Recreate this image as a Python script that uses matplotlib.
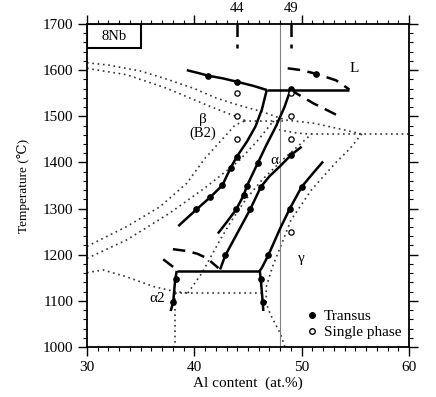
import matplotlib.pyplot as plt
from matplotlib.patches import Rectangle
from matplotlib.lines import Line2D
from matplotlib.ticker import MultipleLocator

plt.rcParams['font.family'] = ['Liberation Serif', 'DejaVu Serif', 'DejaVu Sans']

# ---- measured transus lines (solid) ----
beta_top_x = [39.3, 40.5, 41.3, 42.7, 43.95, 45.5, 46.75]
beta_top_t = [1600, 1593, 1588, 1582, 1575, 1566, 1557]

perit_x = [46.75, 54.45]
perit_t = [1557, 1557]

lineB_x = [46.75, 46.3, 45.7, 44.9, 43.95, 43.4, 42.6, 41.5, 40.2, 38.5]
lineB_t = [1557, 1515, 1478, 1445, 1412, 1389, 1350, 1325, 1298, 1262]

lineC_x = [49.0, 48.4, 47.6, 46.7, 45.9, 44.9, 44.6, 43.9, 43.0, 42.2]
lineC_t = [1560, 1520, 1478, 1437, 1398, 1349, 1329, 1298, 1270, 1246]

linec_x = [50.0, 49.05, 48.0, 47.0, 46.2, 45.2, 44.2, 42.9, 42.4]
linec_t = [1434, 1417, 1392, 1370, 1347, 1298, 1255, 1199, 1168]

lineE_x = [52.0, 51.0, 50.0, 48.9, 48.0, 46.9, 46.3, 46.1, 46.2, 46.37, 46.43]
lineE_t = [1402, 1375, 1347, 1300, 1257, 1199, 1172, 1165, 1145, 1098, 1078]

eut_x = [38.36, 46.1]
eut_t = [1165, 1165]

a2_x = [38.36, 38.2, 38.04, 37.8]
a2_t = [1165, 1142, 1098, 1078]

# ---- dashed lines ----
Lup_x = [48.7, 50.0, 51.36, 53.2, 54.45]
Lup_t = [1604, 1600, 1592, 1578, 1558]
Llow_x = [48.9, 51.1, 53.6]
Llow_t = [1558, 1528, 1499]
dashL_x = [38.0, 39.3, 40.3, 41.2, 42.25]
dashL_t = [1212, 1208, 1202, 1192, 1171]
dashL2_x = [37.1, 38.4]
dashL2_t = [1190, 1167]

# ---- binary Ti-Al reference (dotted) ----
d1_x = [30, 32, 35, 37.5, 40, 42, 44, 46.3, 48.5, 51.1, 53.5, 55.5]
d1_t = [1616, 1611, 1598, 1580, 1560, 1540, 1525, 1510, 1492, 1485, 1473, 1462]
d2_x = [30, 33.7, 37.4, 41.5, 43.95, 44.8]
d2_t = [1604, 1590, 1561, 1521, 1499, 1490]
d3_x = [30, 33.7, 36.8, 39.3, 41.0, 43.8, 44.7]
d3_t = [1218, 1261, 1304, 1355, 1409, 1481, 1490]
d4_x = [30, 33.7, 37.7, 41.0, 44.1, 46.0, 47.3]
d4_t = [1192, 1232, 1290, 1345, 1402, 1450, 1488]
d5_x = [39.4, 40.7, 42.4, 43.5, 44.8, 46.3, 48.2, 50.9]
d5_t = [1117, 1160, 1232, 1275, 1320, 1362, 1405, 1461]
asol_x = [47.3, 48.0, 49.5, 50.9]
asol_t = [1490, 1470, 1464, 1461]
g_x = [55.6, 54.5, 53.2, 52.0, 50.9, 49.85, 49.0, 48.1, 47.3, 46.7, 46.7, 47.1, 48.0, 48.45]
g_t = [1462, 1430, 1400, 1369, 1340, 1304, 1275, 1221, 1175, 1130, 1095, 1070, 1030, 1000]
a2d_x = [30, 31.5, 33.7, 36.2, 38.2, 39.4]
a2d_t = [1161, 1167, 1152, 1131, 1120, 1117]
h1490_x = [44.6, 48.5]
h1462_x = [50.9, 60]
h1117_x = [38.2, 46.2]
v382_t = [1117, 1000]

# ---- experimental points ----
transus_x = [41.3, 43.95, 51.36, 49.0, 43.95, 43.4, 42.6, 41.5, 40.2,
             45.9, 44.9, 44.6, 43.9, 49.05, 46.2, 45.2, 42.9,
             50.0, 48.9, 46.9, 46.2, 46.37, 38.3, 38.04]
transus_t = [1587, 1575, 1592, 1560, 1412, 1389, 1350, 1325, 1298,
             1398, 1349, 1329, 1298, 1417, 1347, 1298, 1199,
             1347, 1300, 1199, 1147, 1098, 1147, 1098]
single_x = [44, 44, 44, 49, 49, 49, 49]
single_t = [1550, 1500, 1450, 1550, 1500, 1450, 1250]

fig = plt.figure(figsize=(4.36, 3.97), dpi=100)
ax = fig.add_axes([0.1995, 0.126, 0.7385, 0.8135])

sol = dict(color='black', lw=1.8, solid_capstyle='butt')
dsh = dict(color='black', lw=1.8, ls=(0, (5, 3)))
dot = dict(color='#333333', lw=1.2, ls=(0, (1, 2.2)))

for xs, ts in [(d1_x, d1_t), (d2_x, d2_t), (d3_x, d3_t), (d4_x, d4_t),
               (d5_x, d5_t), (asol_x, asol_t), (g_x, g_t), (a2d_x, a2d_t)]:
    ax.plot(xs, ts, **dot)
ax.plot(h1490_x, [1490, 1490], **dot)
ax.plot(h1462_x, [1462, 1462], **dot)
ax.plot(h1117_x, [1117, 1117], **dot)
ax.plot([38.2, 38.2], v382_t, **dot)

ax.axvline(48, color='gray', lw=0.8)

for xs, ts in [(beta_top_x, beta_top_t), (perit_x, perit_t), (lineB_x, lineB_t),
               (lineC_x, lineC_t), (linec_x, linec_t), (lineE_x, lineE_t),
               (eut_x, eut_t), (a2_x, a2_t)]:
    ax.plot(xs, ts, **sol)

for xs, ts in [(Lup_x, Lup_t), (Llow_x, Llow_t), (dashL_x, dashL_t), (dashL2_x, dashL2_t)]:
    ax.plot(xs, ts, **dsh)
ax.plot([44, 44], [1700, 1648], **dsh)
ax.plot([49, 49], [1700, 1648], **dsh)

ax.plot(transus_x, transus_t, 'o', color='black', ms=3.8, ls='none')
ax.plot(single_x, single_t, 'o', mfc='white', mec='black', mew=0.9, ms=3.8, ls='none')

ax.add_patch(Rectangle((30, 1648), 5, 52, fill=False, ec='black', lw=1.5))
ax.text(32.5, 1674, '8Nb', ha='center', va='center', fontsize=10.5)

ax.text(44, 1733, '44', ha='center', va='center', fontsize=10.5, clip_on=False)
ax.text(49, 1733, '49', ha='center', va='center', fontsize=10.5, clip_on=False)

ax.text(54.9, 1604, 'L', ha='center', va='center', fontsize=11)
ax.text(40.8, 1494, 'β', ha='center', va='center', fontsize=11)
ax.text(40.8, 1463, '(B2)', ha='center', va='center', fontsize=10.5)
ax.text(47.5, 1405, 'α', ha='center', va='center', fontsize=11)
ax.text(50.0, 1192, 'γ', ha='center', va='center', fontsize=11)
ax.text(36.5, 1105, 'α2', ha='center', va='center', fontsize=11)

ax.set_xlim(30, 60)
ax.set_ylim(1000, 1700)
ax.set_xticks([30, 40, 50, 60])
ax.set_yticks(range(1000, 1701, 100))
ax.xaxis.set_minor_locator(MultipleLocator(1))
ax.yaxis.set_minor_locator(MultipleLocator(20))
ax.tick_params(which='both', direction='out', top=True, right=True, labelsize=11)
ax.tick_params(which='major', length=6.5, width=1)
ax.tick_params(which='minor', length=3, width=0.8)
for s in ax.spines.values():
    s.set_linewidth(1.3)

ax.set_xlabel('Al content  (at.%)', fontsize=11, labelpad=2)
ax.set_ylabel('Temperature (℃)', fontsize=9.5, labelpad=9)

handles = [Line2D([], [], marker='o', color='black', ls='none', ms=4),
           Line2D([], [], marker='o', mfc='white', mec='black', ls='none', ms=4)]
ax.legend(handles, ['Transus', 'Single phase'], loc='lower right', frameon=False,
          fontsize=11, handletextpad=0.3, handlelength=1, borderaxespad=0.1,
          labelspacing=0.15)

fig.savefig('out.png', dpi=100)
